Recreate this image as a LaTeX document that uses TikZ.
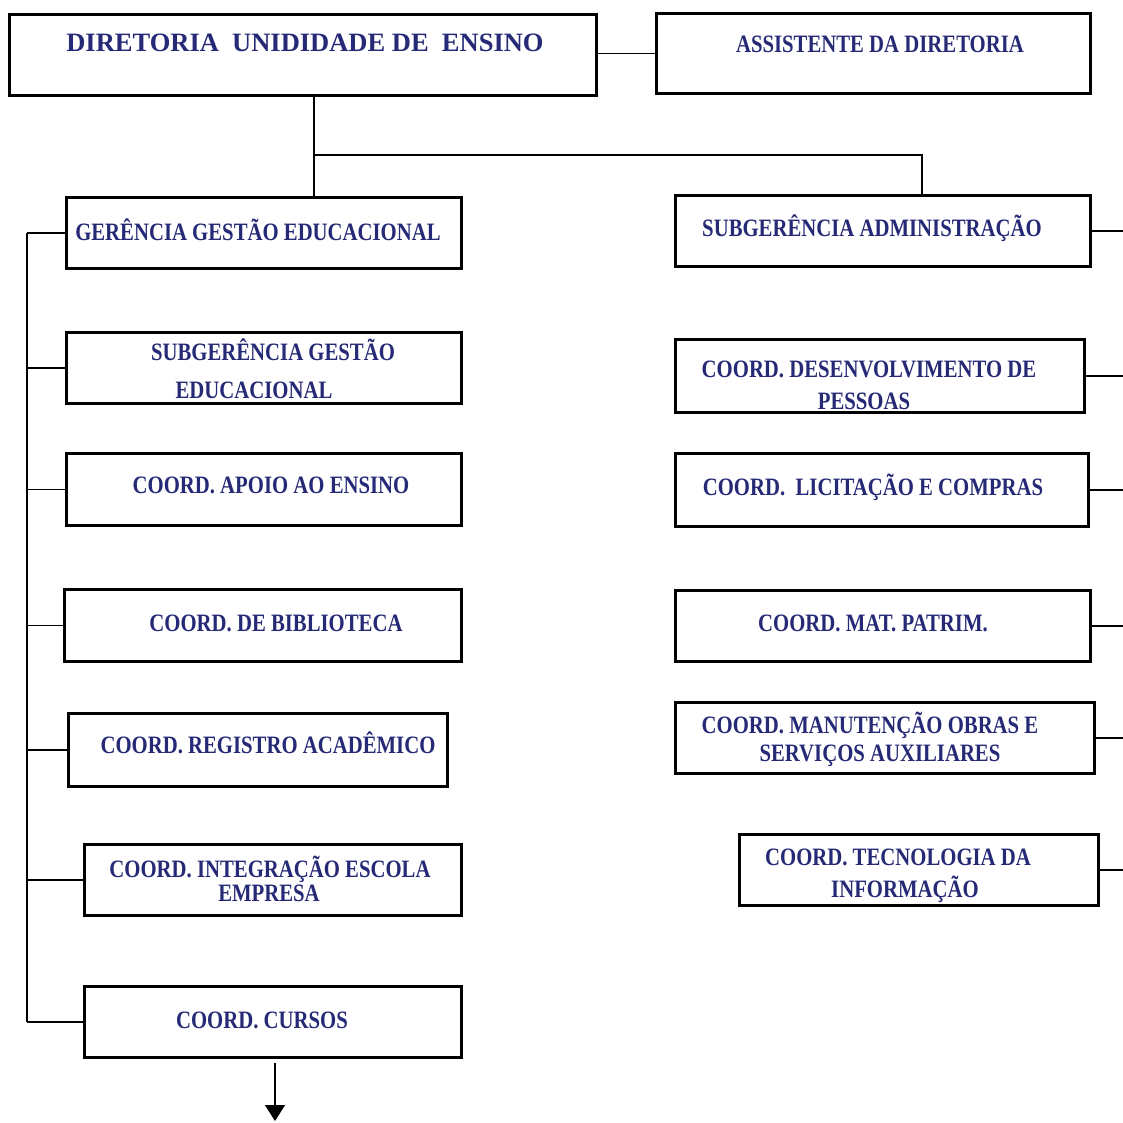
\documentclass[tikz,border=0pt]{standalone}
\usepackage{fontspec}
\setmainfont{Liberation Serif}
\newfontfamily\boxfont[FakeStretch=0.83]{Liberation Serif}
\newfontfamily\titlefont[FakeStretch=1.0]{Liberation Serif}
\usetikzlibrary{arrows.meta}
\definecolor{navy}{RGB}{38,42,118}
\tikzset{
  box/.style={draw=black, line width=2.8pt, fill=white, inner sep=0pt},
  lbl/.style={text=navy, inner sep=0pt, text height=16.5pt, text depth=0pt,
              font=\boxfont\bfseries\fontsize{25}{28}\selectfont},
  ttl/.style={text=navy, inner sep=0pt, text height=18pt, text depth=0pt,
              font=\titlefont\bfseries\fontsize{26.5}{30}\selectfont},
  conn/.style={draw=black, line width=1.3pt}
}
\begin{document}
\begin{tikzpicture}[x=1pt,y=-1pt]
\useasboundingbox (0,0) rectangle (1123,1122);
\fill[white] (0,0) rectangle (1123,1122);

% boxes
\node[box, minimum width=587, minimum height=81] (dir) at (303,55) {};
\node[box, minimum width=434, minimum height=80] (assist) at (873.5,53.5) {};
\node[box, minimum width=395, minimum height=71] (gge) at (264,233) {};
\node[box, minimum width=395, minimum height=71] (subge) at (264,368) {};
\node[box, minimum width=395, minimum height=72] (apoio) at (264,489.5) {};
\node[box, minimum width=397, minimum height=72] (biblio) at (263,625.5) {};
\node[box, minimum width=379, minimum height=73] (registro) at (258,750) {};
\node[box, minimum width=377, minimum height=71] (integ) at (273,880) {};
\node[box, minimum width=377, minimum height=71] (cursos) at (273,1022) {};
\node[box, minimum width=415, minimum height=71] (subadm) at (883,231) {};
\node[box, minimum width=409, minimum height=73] (desenv) at (880,376) {};
\node[box, minimum width=413, minimum height=73] (licit) at (882,490) {};
\node[box, minimum width=415, minimum height=71] (mat) at (883,626) {};
\node[box, minimum width=419, minimum height=71] (manut) at (885,738) {};
\node[box, minimum width=359, minimum height=71] (ti) at (919,870) {};

% texts
\node[ttl] (tdir) at (305,42) {DIRETORIA\ \ UNIDIDADE DE\ \ ENSINO};
\node[lbl] (tassist) at (880,44) {ASSISTENTE DA DIRETORIA};
\node[lbl] (tgge) at (258,232) {GERÊNCIA GESTÃO EDUCACIONAL};
\node[lbl] (tsubge1) at (273,352) {SUBGERÊNCIA GESTÃO};
\node[lbl] (tsubge2) at (254,390) {EDUCACIONAL};
\node[lbl] (tapoio) at (271,485) {COORD. APOIO AO ENSINO};
\node[lbl] (tbiblio) at (276,623) {COORD. DE BIBLIOTECA};
\node[lbl] (tregistro) at (268,745) {COORD. REGISTRO ACADÊMICO};
\node[lbl] (tinteg1) at (270,869) {COORD. INTEGRAÇÃO ESCOLA};
\node[lbl] (tinteg2) at (269,893) {EMPRESA};
\node[lbl] (tcursos) at (262,1020) {COORD. CURSOS};
\node[lbl] (tsubadm) at (872,228) {SUBGERÊNCIA ADMINISTRAÇÃO};
\node[lbl] (tdesenv1) at (869,369) {COORD. DESENVOLVIMENTO DE};
\node[lbl] (tdesenv2) at (864,401) {PESSOAS};
\node[lbl] (tlicit) at (873,487) {COORD.\ \ LICITAÇÃO E COMPRAS};
\node[lbl] (tmat) at (873,623) {COORD. MAT. PATRIM.};
\node[lbl] (tmanut1) at (870,725) {COORD. MANUTENÇÃO OBRAS E};
\node[lbl] (tmanut2) at (880,753) {SERVIÇOS AUXILIARES};
\node[lbl] (tti1) at (898,857) {COORD. TECNOLOGIA DA};
\node[lbl] (tti2) at (905,889) {INFORMAÇÃO};

% top connectors
\coordinate (j1) at (314,155);
\coordinate (j2) at (922,155);
\draw[conn] (dir.east |- assist.west) -- (assist.west);
\draw[conn] (dir.south -| j1) -- (gge.north -| j1);
\draw[conn] (j1) -- (j2) -- (subadm.north -| j2);

% left trunk
\coordinate (lt) at (27,0);
\draw[conn] (gge.west -| lt) -- (cursos.west -| lt);
\foreach \n in {gge,subge,apoio,biblio,registro,integ,cursos}
  \draw[conn] (\n.west) -- (\n.west -| lt);

% right stubs
\coordinate (rt) at (1123,0);
\foreach \n in {subadm,desenv,licit,mat,manut,ti}
  \draw[conn] (\n.east) -- (\n.east -| rt);

% bottom arrow
\coordinate (aend) at (275,1121);
\draw[conn, -{Triangle[width=20pt,length=16pt]}] ([yshift=-4pt]cursos.south -| aend) -- (aend);
\end{tikzpicture}
\end{document}
